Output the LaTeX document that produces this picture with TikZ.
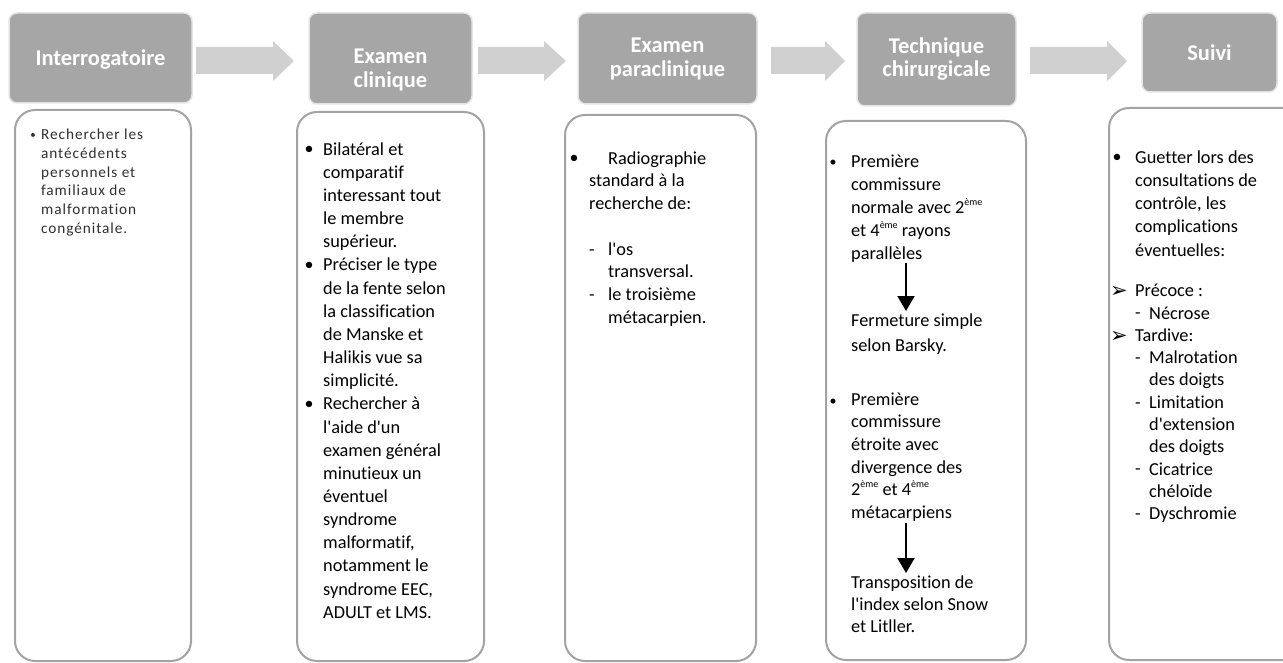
\documentclass[tikz,border=0pt]{standalone}
\usepackage{fontspec}
\setmainfont{Carlito}[Ligatures={NoCommon}]
\newfontfamily\dejavu{DejaVu Sans}
\newfontfamily\spacedfont{Carlito}[LetterSpace=6, Ligatures={NoCommon}]
\usetikzlibrary{arrows.meta}
\definecolor{hdrfill}{HTML}{A6A6A6}
\definecolor{hdredge}{HTML}{E4E4E4}
\definecolor{arrfill}{HTML}{D0D0D0}
\definecolor{boxedge}{HTML}{A3A3A3}
\definecolor{firsttext}{HTML}{303030}
\newcommand{\supx}[1]{\raisebox{0.42em}{\fontsize{10}{10}\selectfont #1}}
\newcommand{\apos}{\textquotesingle}
\begin{document}
\begin{tikzpicture}[x=1pt,y=-1pt,
  hdr/.style={draw=hdredge, line width=1.5pt, fill=hdrfill, rounded corners=8pt, anchor=north west, inner sep=0pt, outer sep=0pt},
  hdrtxt/.style={text=white, font=\bfseries\fontsize{22.5}{23.5}\selectfont, align=center, inner sep=0pt},
  blockarrow/.style={fill=arrfill},
  cbox/.style={draw=boxedge, line width=2pt, fill=white, rounded corners=20pt, anchor=north west, inner sep=0pt, outer sep=0pt},
  para/.style={anchor=north west, inner sep=0pt, align=left, font=\fontsize{18.3}{#1}\selectfont},
  glyph/.style={anchor=base, inner sep=0pt, font=\fontsize{18}{22}\selectfont},
  dashmark/.style={anchor=base west, inner sep=0pt, font=\fontsize{18}{22}\selectfont},
  chevron/.style={anchor=base west, inner sep=0pt, font=\dejavu\fontsize{21}{22}\selectfont},
  downarrow/.style={line width=2pt, -{Triangle[width=17pt,length=15pt]}}
]
\useasboundingbox (0,0) rectangle (1283,663);

% headers
\node[hdr, minimum width=183pt, minimum height=90pt] (h1) at (9,13) {};
\node[hdr, minimum width=163pt, minimum height=91pt] (h2) at (309,13) {};
\node[hdr, minimum width=179pt, minimum height=91pt] (h3) at (578,13) {};
\node[hdr, minimum width=159pt, minimum height=93pt] (h4) at (857,13) {};
\node[hdr, minimum width=135pt, minimum height=79pt] (h5) at (1142,13) {};

\node[hdrtxt] (h1t) at (100.5,60) {Interrogatoire};
\node[hdrtxt] (h2t) at (390.5,70) {Examen\\clinique};
\node[hdrtxt] (h3t) at (667.5,59) {Examen\\paraclinique};
\node[hdrtxt] (h4t) at (936.5,59) {Technique\\chirurgicale};
\node[hdrtxt] (h5t) at (1209.5,53) {Suivi};

% block arrows between headers
\path[blockarrow] (196,47) -- (273,47) -- (273,41) -- (294,61) -- (273,81) -- (273,74) -- (196,74) -- cycle;
\path[blockarrow] (478,47) -- (544,47) -- (544,41) -- (566,61) -- (544,81) -- (544,74) -- (478,74) -- cycle;
\path[blockarrow] (771,47) -- (825,47) -- (825,41) -- (845,61) -- (825,81) -- (825,74) -- (771,74) -- cycle;
\path[blockarrow] (1030,47) -- (1107,47) -- (1107,41) -- (1127,61) -- (1107,81) -- (1107,74) -- (1030,74) -- cycle;

% content boxes
\node[cbox, minimum width=176pt, minimum height=551pt] (c1) at (15,110) {};
\node[cbox, minimum width=187pt, minimum height=549pt] (c2) at (297,112) {};
\node[cbox, minimum width=191pt, minimum height=546pt] (c3) at (565,115) {};
\node[cbox, minimum width=200pt, minimum height=539pt] (c4) at (826,121) {};
\node[cbox, minimum width=200pt, minimum height=552pt] (c5) at (1109,108) {};

% column 1
\node[anchor=base, inner sep=0pt, font=\fontsize{11}{12}\selectfont, text=firsttext] (b11) at (33,139) {•};
\node[anchor=north west, inner sep=0pt, align=left, text=firsttext, font=\spacedfont\fontsize{15.3}{18.9}\selectfont] (t11) at (41,125.8)
  {\strut Rechercher les\\antécédents\\personnels et\\familiaux de\\malformation\\congénitale.};

% column 2
\node[glyph] (b21) at (309,155) {•};
\node[para=23.15] (t21) at (323,138.8) {\strut Bilatéral et\\comparatif\\interessant tout\\le membre\\supérieur.};
\node[glyph] (b22) at (309,270.75) {•};
\node[para=23.15] (t22) at (323,254.55) {\strut Préciser le type\\de la fente selon\\la classification\\de Manske et\\Halikis vue sa\\simplicité.};
\node[glyph] (b23) at (309,409.65) {•};
\node[para=23.15] (t23) at (323,393.45) {\strut Rechercher à\\l\apos aide d\apos un\\examen général\\minutieux un\\éventuel\\syndrome\\malformatif,\\notamment le\\syndrome EEC,\\ADULT et LMS.};

% column 3
\node[glyph] (b31) at (574,164) {•};
\node[para=22.7] (t31) at (589,148.1) {\strut\hspace{19pt}Radiographie\\standard à la\\recherche de:};
\node[dashmark] (d31) at (589,255) {-};
\node[para=22.7] (t32) at (608,239.1) {\strut l\apos os\\transversal.};
\node[dashmark] (d32) at (589,300.4) {-};
\node[para=22.7] (t33) at (608,284.5) {\strut le troisième\\métacarpien.};

% column 4
\node[anchor=base, inner sep=0pt, font=\fontsize{14}{16}\selectfont] (b41) at (833,167) {•};
\node[para=23] (t41) at (851,150.9) {\strut Première\\commissure\\normale avec 2\supx{ème}\\et 4\supx{ème} rayons\\parallèles};
\coordinate (a1s) at (906,263);
\coordinate (a1e) at (906,311);
\draw[downarrow] (a1s) -- (a1e);
\node[para=25] (t42) at (851,308.5) {\strut Fermeture simple\\selon Barsky.};
\node[anchor=base, inner sep=0pt, font=\fontsize{14}{16}\selectfont] (b42) at (833,405) {•};
\node[para=22.6] (t43) at (851,389.2) {\strut Première\\commissure\\étroite avec\\divergence des\\2\supx{ème} et 4\supx{ème}\\métacarpiens};
\coordinate (a2s) at (906,523);
\coordinate (a2e) at (906,573);
\draw[downarrow] (a2s) -- (a2e);
\node[para=22] (t44) at (851,572.6) {\strut Transposition de\\l\apos index selon Snow\\et Litller.};

% column 5
\node[glyph] (b51) at (1117,163) {•};
\node[para=23.2] (t51) at (1135,146.8) {\strut Guetter lors des\\consultations de\\contrôle, les\\complications\\éventuelles:};
\node[chevron] (s51) at (1110,297.5) {➢};
\node[para=22.3] (t52) at (1135,280.9) {\strut Précoce :};
\node[dashmark] (d51) at (1135,318.8) {-};
\node[para=22.3] (t53) at (1149,303.2) {\strut Nécrose};
\node[chevron] (s52) at (1110,342.1) {➢};
\node[para=22.3] (t54) at (1135,325.5) {\strut Tardive:};
\node[dashmark] (d52) at (1135,363.4) {-};
\node[dashmark] (d53) at (1135,408.0) {-};
\node[dashmark] (d54) at (1135,474.9) {-};
\node[dashmark] (d55) at (1135,519.5) {-};
\node[para=22.3] (t55) at (1149,347.8) {\strut Malrotation\\des doigts\\Limitation\\d\apos extension\\des doigts\\Cicatrice\\chéloïde\\Dyschromie};
\end{tikzpicture}
\end{document}
